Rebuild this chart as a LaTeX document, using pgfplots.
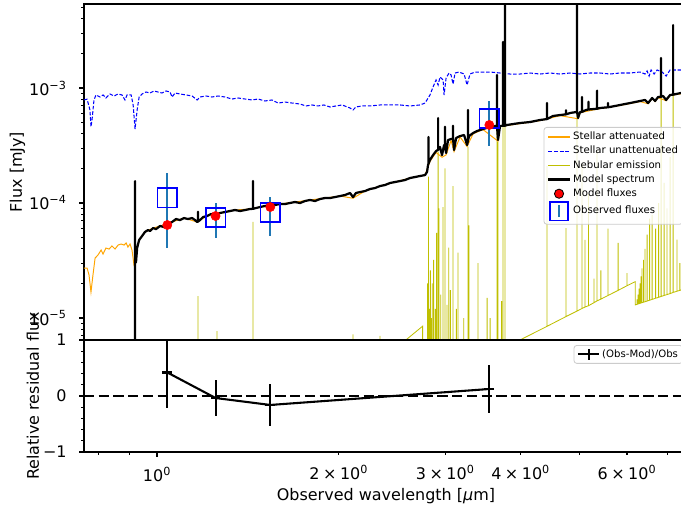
\documentclass[border=0pt]{standalone}
\usepackage{pgfplots}
\pgfplotsset{compat=1.18}
\usepackage{pgfplotstable}
\usepackage{fontspec}
\setmainfont{DejaVu Sans}
\definecolor{tabblue}{HTML}{1F77B4}
\definecolor{neb}{rgb}{0.75,0.75,0}
\definecolor{orng}{HTML}{FFA500}
\definecolor{mblue}{HTML}{0000FF}

\pgfplotstableread{
lam f
0.757 1e-7
0.9196 1e-7
0.9196 1.5e-4
0.9196 1e-7
1.169 1e-7
1.169 1.55e-5
1.169 1e-7
1.257 1e-7
1.257 7.7e-6
1.257 1e-7
1.442 1e-7
1.442 6.84e-5
1.442 1e-7
2.111 1e-7
2.111 7.2e-6
2.111 1e-7
2.34 1e-7
2.34 7.0e-6
2.34 1e-7
2.40 4.9e-6
2.582 6.44e-6
2.753 8.5e-6
2.753 2.4e-6
2.805 3e-6
2.805 2.0e-5
2.805 3e-6
2.815 3e-6
2.815 1.7e-4
2.815 3e-6
2.825 3e-6
2.825 1.2e-5
2.825 3e-6
2.835 3e-6
2.835 2.6e-5
2.835 3e-6
2.845 3e-6
2.845 1.0e-5
2.845 3e-6
2.855 3e-6
2.855 2.0e-5
2.855 3e-6
2.870 3e-6
2.870 3.2e-5
2.870 3e-6
2.890 3e-6
2.890 1.2e-5
2.890 3e-6
2.903 3e-6
2.903 5.5e-5
2.903 3e-6
2.920 3e-6
2.920 2.8e-4
2.920 3e-6
2.930 3e-6
2.930 9.0e-5
2.930 3e-6
2.950 3e-6
2.950 1.6e-5
2.950 3e-6
2.975 3e-6
2.975 9.2e-5
2.975 3e-6
2.998 3e-6
2.998 2.0e-4
2.998 3e-6
3.020 3e-6
3.020 1.3e-5
3.020 3e-6
3.040 3e-6
3.040 4.1e-5
3.040 3e-6
3.060 3e-6
3.060 1.75e-5
3.060 3e-6
3.091 3e-6
3.091 1.4e-4
3.091 3e-6
3.130 3e-6
3.130 1.2e-5
3.130 3e-6
3.150 3e-6
3.150 3.7e-5
3.150 3e-6
3.220 3e-6
3.220 1.0e-5
3.220 3e-6
3.273 3e-6
3.273 3.1e-4
3.273 3e-6
3.285 3e-6
3.285 6.4e-5
3.285 3e-6
3.400 3e-6
3.400 3.0e-5
3.400 3e-6
3.520 3e-6
3.520 1.5e-5
3.520 3e-6
3.560 3e-6
3.560 1.0e-5
3.560 3e-6
3.655 3e-6
3.655 8.4e-4
3.655 3e-6
3.669 3e-6
3.669 3.4e-4
3.669 3e-6
3.720 3e-6
3.720 1.4e-5
3.720 3e-6
3.740 3e-6
3.740 2.05e-3
3.740 3e-6
3.769 3e-6
3.769 1e-2
3.769 3e-6
3.99 6.44e-6
4.423 8.47e-6
4.423 2.1e-4
4.423 8.47e-6
4.755 1.03e-5
4.755 6.06e-5
4.755 1.03e-5
4.959 1.15e-5
4.959 1e-2
4.959 1.15e-5
5.053 1.21e-5
5.053 2.2e-4
5.053 1.21e-5
5.112 1.245e-5
5.112 4.77e-5
5.112 1.245e-5
5.18 1.28e-5
5.18 1.2e-4
5.18 1.28e-5
5.29 1.36e-5
5.29 2.2e-5
5.29 1.36e-5
5.352 1.41e-5
5.352 2.9e-4
5.352 1.41e-5
5.43 1.46e-5
5.43 2.6e-5
5.43 1.46e-5
5.58 1.57e-5
5.58 6e-5
5.58 1.57e-5
5.80 1.74e-5
5.80 4.5e-5
5.80 1.74e-5
6.00 1.91e-5
6.00 2.46e-5
6.00 1.91e-5
6.19 2.07e-5
6.19 1.30e-5
6.232 1.315e-5
6.232 1.45e-5
6.232 1.315e-5
6.257 1.324e-5
6.257 1.6e-5
6.257 1.324e-5
6.281 1.333e-5
6.281 1.8e-5
6.281 1.333e-5
6.305 1.342e-5
6.305 2.0e-5
6.305 1.342e-5
6.329 1.35e-5
6.329 2.3e-5
6.329 1.35e-5
6.353 1.359e-5
6.353 2.7e-5
6.353 1.359e-5
6.390 1.373e-5
6.390 3.2e-5
6.390 1.373e-5
6.427 1.386e-5
6.427 4.0e-5
6.427 1.386e-5
6.477 1.405e-5
6.477 5.3e-5
6.477 1.405e-5
6.540 1.428e-5
6.540 7.3e-5
6.540 1.428e-5
6.603 1.452e-5
6.603 7.9e-5
6.603 1.452e-5
6.69 1.485e-5
6.69 6.0e-5
6.69 1.485e-5
6.767 1.514e-5
6.767 1.0e-4
6.767 1.514e-5
6.832 1.54e-5
6.832 9.8e-4
6.832 1.54e-5
6.911 1.57e-5
6.911 1.5e-4
6.911 1.57e-5
6.989 1.60e-5
6.989 9.0e-5
6.989 1.60e-5
7.071 1.63e-5
7.071 2.5e-4
7.071 1.63e-5
7.153 1.67e-5
7.153 2.66e-3
7.153 1.67e-5
7.26 1.71e-5
7.26 4.8e-5
7.26 1.71e-5
7.34 1.74e-5
7.34 3.0e-5
7.34 1.74e-5
7.63 1.86e-5
}\nebtab

\pgfplotstableread{
lam f
0.757 2.72e-5
0.766 2.72e-5
0.7717 2.37e-5
0.7775 1.68e-5
0.7834 2.37e-5
0.7897 3.32e-5
0.7985 3.53e-5
0.808 3.90e-5
0.814 3.60e-5
0.823 4.06e-5
0.833 3.98e-5
0.842 4.23e-5
0.852 3.98e-5
0.862 4.31e-5
0.872 4.40e-5
0.882 4.31e-5
0.889 4.49e-5
0.895 4.14e-5
0.9022 4.40e-5
0.909 3.90e-5
0.9159 2.89e-5
0.923 3.07e-5
0.927 4.06e-5
0.934 4.77e-5
0.955 5.60e-5
0.985 6.06e-5
1.0116 6.31e-5
1.059 6.84e-5
1.108 7.40e-5
1.165 6.84e-5
1.210 7.71e-5
1.2717 8.19e-5
1.346 8.69e-5
1.4256 8.87e-5
1.509 9.42e-5
1.598 9.80e-5
1.692 1.02e-4
1.792 1.062e-4
1.897 1.105e-4
2.009 1.15e-4
2.111 1.10e-4
2.210 1.271e-4
2.340 1.405e-4
2.477 1.522e-4
2.624 1.65e-4
2.778 1.75e-4
2.831 2.30e-4
2.897 2.75e-4
2.964 2.5e-4
3.010 2.62e-4
3.068 3.5e-4
3.103 2.8e-4
3.175 3.75e-4
3.261 3.1e-4
3.337 4.0e-4
3.465 4.35e-4
3.669 3.45e-4
3.698 4.62e-4
3.990 4.9e-4
4.306 5.2e-4
4.647 5.75e-4
4.978 5.4e-4
5.015 6.1e-4
5.412 6.62e-4
5.8425 7.05e-4
6.305 7.62e-4
6.502 7.3e-4
6.603 8.1e-4
6.678 7.6e-4
6.754 8.25e-4
6.964 7.75e-4
7.071 8.6e-4
7.63 9.15e-4
}\orngtab

\pgfplotstableread{
lam f
0.757 7.87e-4
0.766 8.0e-4
0.7745 6.44e-4
0.7775 4.6e-4
0.7806 5.27e-4
0.7865 7.87e-4
0.7925 8.70e-4
0.8047 8.35e-4
0.814 8.70e-4
0.823 8.19e-4
0.836 8.87e-4
0.849 8.52e-4
0.862 8.87e-4
0.875 8.70e-4
0.885 7.87e-4
0.892 8.70e-4
0.906 8.70e-4
0.913 7.12e-4
0.9196 4.40e-4
0.927 6.44e-4
0.934 8.35e-4
0.9445 8.87e-4
0.959 9.23e-4
0.9737 9.05e-4
0.9886 9.42e-4
1.004 9.23e-4
1.019 9.05e-4
1.035 9.42e-4
1.0508 9.23e-4
1.059 8.35e-4
1.071 9.05e-4
1.0916 8.87e-4
1.117 8.70e-4
1.143 8.52e-4
1.165 7.87e-4
1.178 8.35e-4
1.205 8.52e-4
1.233 8.35e-4
1.262 8.52e-4
1.296 8.35e-4
1.331 8.02e-4
1.362 8.19e-4
1.399 8.02e-4
1.437 7.87e-4
1.470 8.02e-4
1.509 7.71e-4
1.550 7.87e-4
1.586 7.40e-4
1.629 7.55e-4
1.673 7.40e-4
1.7248 7.26e-4
1.765 6.98e-4
1.805 7.12e-4
1.847 6.98e-4
1.890 7.12e-4
1.934 6.84e-4
1.979 6.98e-4
2.025 7.12e-4
2.087 6.70e-4
2.111 6.44e-4
2.135 6.84e-4
2.184 6.98e-4
2.252 6.98e-4
2.340 7.12e-4
2.431 7.12e-4
2.526 7.12e-4
2.624 6.98e-4
2.725 7.12e-4
2.778 7.40e-4
2.831 8.70e-4
2.864 1.02e-3
2.897 1.174e-3
2.920 1.062e-3
2.941 1.246e-3
2.976 1.174e-3
2.987 8.70e-4
3.010 1.222e-3
3.044 1.35e-3
3.068 1.297e-3
3.091 1.083e-3
3.115 1.35e-3
3.163 1.377e-3
3.224 1.323e-3
3.261 1.062e-3
3.2975 1.323e-3
3.362 1.377e-3
3.426 1.377e-3
3.559 1.377e-3
3.698 1.35e-3
3.841 1.323e-3
3.990 1.323e-3
4.145 1.35e-3
4.306 1.323e-3
4.474 1.35e-3
4.647 1.323e-3
4.828 1.35e-3
5.015 1.323e-3
5.211 1.35e-3
5.412 1.35e-3
5.623 1.323e-3
5.8425 1.35e-3
6.069 1.35e-3
6.305 1.377e-3
6.427 1.323e-3
6.477 1.405e-3
6.527 1.27e-3
6.577 1.434e-3
6.653 1.323e-3
6.729 1.434e-3
6.859 1.377e-3
6.964 1.27e-3
7.071 1.434e-3
7.373 1.434e-3
7.63 1.434e-3
}\bluetab

\pgfplotstableread{
lam f
0.9196 1e-7
0.9196 1.55e-4
0.9196 3.0e-5
0.923 3.07e-5
0.927 4.06e-5
0.934 4.77e-5
0.9445 5.16e-5
0.955 5.60e-5
0.966 5.82e-5
0.9737 5.71e-5
0.985 6.06e-5
0.996 5.93e-5
1.0116 6.31e-5
1.027 6.18e-5
1.043 6.57e-5
1.059 6.84e-5
1.075 7.26e-5
1.0916 7.11e-5
1.108 7.40e-5
1.125 7.26e-5
1.143 7.40e-5
1.156 7.11e-5
1.165 6.84e-5
1.169 6.9e-5
1.169 8.4e-5
1.169 6.9e-5
1.178 7.11e-5
1.192 7.55e-5
1.210 7.71e-5
1.228 8.02e-5
1.243 7.87e-5
1.257 8.02e-5
1.2717 8.19e-5
1.296 8.35e-5
1.3209 8.52e-5
1.346 8.69e-5
1.3722 8.52e-5
1.399 8.69e-5
1.4256 8.87e-5
1.442 8.9e-5
1.442 1.553e-4
1.442 8.9e-5
1.459 9.05e-5
1.481 9.23e-5
1.509 9.42e-5
1.5385 9.61e-5
1.568 9.61e-5
1.598 9.80e-5
1.629 9.80e-5
1.660 1.0e-4
1.692 1.02e-4
1.7248 1.0e-4
1.758 1.041e-4
1.792 1.062e-4
1.827 1.041e-4
1.8614 1.083e-4
1.897 1.105e-4
1.934 1.105e-4
1.971 1.127e-4
2.009 1.15e-4
2.048 1.174e-4
2.087 1.222e-4
2.111 1.127e-4
2.135 1.222e-4
2.1685 1.246e-4
2.210 1.271e-4
2.252 1.323e-4
2.296 1.35e-4
2.340 1.405e-4
2.385 1.434e-4
2.431 1.493e-4
2.477 1.522e-4
2.526 1.553e-4
2.574 1.585e-4
2.624 1.65e-4
2.674 1.683e-4
2.725 1.717e-4
2.778 1.75e-4
2.799 1.86e-4
2.810 2.14e-4
2.815 2.2e-4
2.815 3.75e-4
2.815 2.2e-4
2.831 2.37e-4
2.864 2.61e-4
2.897 2.83e-4
2.920 2.9e-4
2.920 5.48e-4
2.920 2.9e-4
2.941 3.07e-4
2.964 2.61e-4
2.987 3.19e-4
2.998 3.2e-4
2.998 4.6e-4
2.998 3.2e-4
3.010 2.72e-4
3.033 3.53e-4
3.068 3.60e-4
3.091 3.6e-4
3.091 4.7e-4
3.091 3.6e-4
3.103 2.89e-4
3.127 3.67e-4
3.175 3.82e-4
3.224 3.90e-4
3.261 3.19e-4
3.273 3.5e-4
3.273 6.44e-4
3.273 3.5e-4
3.286 3.82e-4
3.337 4.06e-4
3.388 4.23e-4
3.465 4.40e-4
3.559 4.58e-4
3.628 4.67e-4
3.655 4.67e-4
3.655 1.297e-3
3.655 4.67e-4
3.669 3.53e-4
3.698 4.67e-4
3.740 4.7e-4
3.740 2.51e-3
3.740 4.7e-4
3.769 4.7e-4
3.769 1e-2
3.769 4.7e-4
3.798 4.77e-4
3.886 4.86e-4
3.990 4.96e-4
4.145 5.06e-4
4.306 5.27e-4
4.423 5.37e-4
4.423 7.4e-4
4.423 5.37e-4
4.524 5.71e-4
4.647 5.82e-4
4.755 5.9e-4
4.755 6.4e-4
4.755 5.9e-4
4.828 6.06e-4
4.940 6.18e-4
4.959 6.2e-4
4.959 1e-2
4.959 6.2e-4
4.978 5.48e-4
5.015 6.18e-4
5.053 6.2e-4
5.053 8.35e-4
5.053 6.2e-4
5.132 6.44e-4
5.18 6.5e-4
5.18 7.6e-4
5.18 6.5e-4
5.290 6.57e-4
5.352 6.6e-4
5.352 9.5e-4
5.352 6.6e-4
5.412 6.70e-4
5.58 6.8e-4
5.58 7.4e-4
5.58 6.8e-4
5.623 6.84e-4
5.8425 7.12e-4
6.069 7.40e-4
6.305 7.71e-4
6.427 7.87e-4
6.502 7.40e-4
6.603 8.19e-4
6.678 7.71e-4
6.754 8.35e-4
6.832 8.4e-4
6.832 1.824e-3
6.832 8.4e-4
6.884 8.52e-4
6.964 7.87e-4
7.071 8.70e-4
7.153 8.75e-4
7.153 3.53e-3
7.153 8.75e-4
7.235 8.87e-4
7.373 9.05e-4
7.63 9.23e-4
}\blacktab

\begin{document}
\begin{tikzpicture}
\path[use as bounding box] (0,0) rectangle (490.32pt,369.36pt);
\pgfplotsset{
  every axis/.append style={
    scale only axis, width=434.88pt,
    xmode=log, xmin=0.757, xmax=7.57,
    axis line style={line width=0.9pt},
    tick align=outside, tick pos=left,
    major tick length=3.5pt, minor tick length=2pt,
    tick style={black, line width=0.8pt},
    minor tick style={line width=0.6pt},
    tick label style={font=\fontsize{11.5}{13}\selectfont},
    label style={font=\fontsize{11.5}{13}\selectfont},
    yticklabel style={xshift=-5.5pt},
    xticklabel style={yshift=-4pt},
    legend cell align=left,
  }
}
% ---------------- top panel ----------------
\begin{axis}[at={(60.48pt,124.56pt)}, anchor=south west, height=241.92pt,
  ymode=log, ymin=6.44e-6, ymax=5.375e-3,
  xtick=\empty,
  ytick={1e-5,1e-4,1e-3},
  yticklabels={10\textsuperscript{−5},10\textsuperscript{−4},10\textsuperscript{−3}},
  minor ytick={7e-6,8e-6,9e-6,2e-5,3e-5,4e-5,5e-5,6e-5,7e-5,8e-5,9e-5,2e-4,3e-4,4e-4,5e-4,6e-4,7e-4,8e-4,9e-4,2e-3,3e-3,4e-3,5e-3},
  ylabel={Flux [mJy]},
  ylabel style={at={(axis description cs:-0.110,0.5)}, anchor=center},
  legend style={at={(rel axis cs:0.9917,0.634)}, anchor=north east,
    font=\fontsize{7.3}{8.5}\selectfont, draw=black!20, line width=0.6pt,
    fill=white, fill opacity=0.8, text opacity=1, draw opacity=1,
    rounded corners=2pt, inner xsep=2pt, inner ysep=2pt, row sep=0.3pt,
    nodes={inner sep=1.3pt, text height=5.6pt, text depth=1.7pt}},
]
\addplot[neb, line width=0.6pt, forget plot] table[x=lam,y=f] {\nebtab};
\addplot[orng, line width=0.7pt, forget plot] table[x=lam,y=f] {\orngtab};
\addplot[mblue, line width=0.75pt, dash pattern=on 2.6pt off 1.3pt, forget plot] table[x=lam,y=f] {\bluetab};
\addplot[black, line width=1.6pt, line join=round, forget plot] table[x=lam,y=f] {\blacktab};
\addplot[only marks, mark=square, mark size=7pt, mark options={mblue, line width=1.1pt}, forget plot,
  error bars/.cd, y dir=both, y explicit, error mark=none,
  error bar style={tabblue, line width=1.5pt}]
  coordinates {(1.04,1.114e-4) +- (0,7.1e-5) (1.25,7.48e-5) +- (0,2.5e-5) (1.54,8.27e-5) +- (0,3.1e-5) (3.55,5.43e-4) +- (0,2.3e-4)};
\addplot[only marks, mark=*, mark size=3.3pt, mark options={red, fill=red}, forget plot]
  coordinates {(1.04,6.44e-5) (1.25,7.71e-5) (1.54,9.23e-5) (3.55,4.77e-4)};
\addlegendimage{legend image code/.code={\draw[draw=orng, line width=1pt, draw opacity=1] (0pt,0pt) -- (15.5pt,0pt);}}
\addlegendentry{Stellar attenuated}
\addlegendimage{legend image code/.code={\draw[draw=mblue, line width=1pt, draw opacity=1, dash pattern=on 2.8pt off 1.3pt] (0pt,0pt) -- (15.5pt,0pt);}}
\addlegendentry{Stellar unattenuated}
\addlegendimage{legend image code/.code={\draw[draw=neb, line width=1pt, draw opacity=1] (0pt,0pt) -- (15.5pt,0pt);}}
\addlegendentry{Nebular emission}
\addlegendimage{legend image code/.code={\draw[draw=black, line width=2.2pt, draw opacity=1] (0pt,0pt) -- (15.5pt,0pt);}}
\addlegendentry{Model spectrum}
\addlegendimage{legend image code/.code={\fill[fill=red, fill opacity=1] (7.75pt,0pt) circle (3.3pt);}}
\addlegendentry{Model fluxes}
\addlegendimage{legend image code/.code={\draw[draw=mblue, line width=1.1pt, sharp corners, draw opacity=1] (1.2pt,-6.8pt) rectangle (14.3pt,6.8pt); \draw[draw=tabblue, line width=1.5pt, draw opacity=1] (7.75pt,-4.2pt) -- (7.75pt,4.2pt);}}
\addlegendentry{Observed fluxes}
\end{axis}
% ---------------- residual panel ----------------
\begin{axis}[at={(60.48pt,43.92pt)}, anchor=south west, height=80.64pt,
  ymin=-1, ymax=1, ytick={-1,0,1}, yticklabels={−1,0,1}, minor y tick num=4,
  xtick={1}, xticklabels={10\textsuperscript{0}},
  minor xtick={0.8,0.9,2,3,4,5,6,7},
  extra x ticks={2,3,4,6},
  extra x tick labels={2\hspace{0.22em}×\hspace{0.22em}10\textsuperscript{0},3\hspace{0.22em}×\hspace{0.22em}10\textsuperscript{0},4\hspace{0.22em}×\hspace{0.22em}10\textsuperscript{0},6\hspace{0.22em}×\hspace{0.22em}10\textsuperscript{0}},
  extra x tick style={major tick length=2pt},
  ylabel={Relative residual flux},
  ylabel style={at={(axis description cs:-0.0844,0.5)}, anchor=center},
  xlabel={Observed wavelength [{\itshape μ}m]},
  xlabel style={at={(axis description cs:0.5,-0.393)}, anchor=center},
  legend style={at={(rel axis cs:0.9917,0.955)}, anchor=north east,
    font=\fontsize{7.3}{8.5}\selectfont, draw=black!20, line width=0.6pt,
    fill=white, fill opacity=0.8, text opacity=1, draw opacity=1,
    rounded corners=2pt, inner xsep=2pt, inner ysep=1.5pt,
    nodes={inner sep=1.3pt, text height=5.6pt, text depth=1.7pt}},
]
\addplot[black, line width=2pt, dash pattern=on 7.4pt off 3.2pt, forget plot] coordinates {(0.757,0) (7.57,0)};
\addplot[black, line width=1.5pt, mark=-, mark size=3.5pt, mark options={line width=1.5pt}, forget plot,
  error bars/.cd, y dir=both, y explicit, error mark=none, error bar style={line width=1.5pt}]
  coordinates {(1.04,0.42) +- (0,0.64) (1.25,-0.036) +- (0,0.33) (1.54,-0.16) +- (0,0.375) (3.55,0.125) +- (0,0.43)};
\addlegendimage{legend image code/.code={\draw[draw=black, line width=1.5pt, draw opacity=1] (0pt,0pt) -- (15.5pt,0pt); \draw[draw=black, line width=1.5pt, draw opacity=1] (7.75pt,-4pt) -- (7.75pt,4pt);}}
\addlegendentry{(Obs-Mod)/Obs}
\end{axis}
\end{tikzpicture}
\end{document}
